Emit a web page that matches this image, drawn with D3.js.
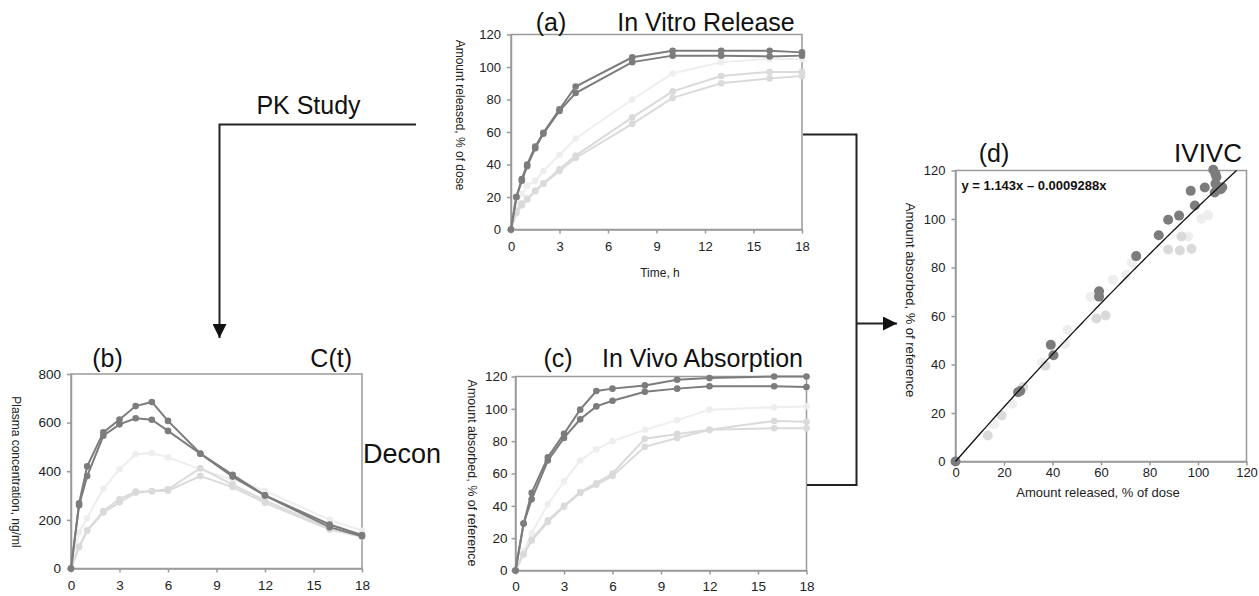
<!DOCTYPE html>
<html>
<head>
<meta charset="utf-8">
<script src="https://cdn.jsdelivr.net/npm/d3@7"></script>
<style>
  body { margin: 0; background: #fff; }
  text { font-family: "Liberation Sans", Arial, sans-serif; }
</style>
</head>
<body>
<svg id="fig" width="1259" height="596"></svg>
<script>
// ---- (a) In vitro release, % of dose ----
const timesA = [0, 0.33, 0.67, 1, 1.5, 2, 3, 4, 7.5, 10, 13, 16, 18];
const releaseDark1 = [0, 20, 31, 40, 51, 59.5, 74, 88, 106, 110, 110, 110, 109];
const releaseDark2 = [0, 20, 30, 39, 50, 59, 73, 84, 103, 107, 107, 106.5, 107];
const releasePale  = [0, 15, 22, 27, 30, 36, 46, 56, 80, 96, 103, 105, 105];
const releaseLight1 = [0, 11, 16, 19, 24, 28.5, 37, 45.5, 69, 85, 94.5, 97, 97];
const releaseLight2 = [0, 10, 15, 18.5, 23.5, 28, 36, 44, 65, 81, 90, 93, 94.5];

// ---- (b) Plasma concentration, ng/ml ----
const timesB = [0, 0.5, 1, 2, 3, 4, 5, 6, 8, 10, 12, 16, 18];
const plasmaDark1 = [0, 268, 420, 560, 613, 668, 685, 607, 473, 385, 301, 181, 138];
const plasmaDark2 = [0, 260, 380, 546, 593, 618, 612, 566, 472, 378, 300, 170, 133];
const plasmaPale  = [0, 150, 208, 328, 408, 470, 474, 457, 408, 365, 320, 200, 155];
const plasmaLight1 = [0, 90, 157, 236, 285, 316, 318, 326, 413, 345, 280, 165, 132];
const plasmaLight2 = [0, 88, 155, 230, 272, 312, 318, 320, 380, 335, 270, 160, 130];

// ---- (c) In vivo absorption, % of reference ----
const timesC = [0, 0.5, 1, 2, 3, 4, 5, 6, 8, 10, 12, 16, 18];
const absorbDark1 = [0, 29, 48, 70, 84.5, 99.5, 111, 112.5, 114.5, 118, 119, 120, 120];
const absorbDark2 = [0, 29, 44, 68, 82, 93.5, 101.5, 105, 110.5, 112.5, 114, 114, 113.5];
const absorbPale  = [0, 12, 23, 41, 55, 68, 75, 80, 87, 93, 99.5, 101, 101.5];
const absorbLight1 = [0, 10, 19, 31, 40, 48.5, 54, 60, 81.5, 84.5, 87, 92.5, 92];
const absorbLight2 = [0, 10, 18.5, 30, 39.5, 48, 53, 58.5, 76.5, 82, 87, 88, 88];

// ---- (d) IVIVC: [released, absorbed] ----
const ivivcDark = [
  [0, 0], [25.8, 28.6], [26.7, 29.1], [39.3, 48.1], [40.4, 43.8], [59.2, 70.2], [59.2, 68],
  [74.5, 84.7], [83.8, 93.3], [87.7, 99.7], [92.2, 101.4], [97, 111.6], [98.7, 105.6],
  [102.8, 113], [106.3, 120.3], [107.2, 118.6], [107.6, 117.3], [107.2, 114.5],
  [106.9, 110.9], [109.4, 112.3], [110, 113.1]
];
const ivivcLight = [
  [13.3, 10.7], [19, 19], [27.9, 30.7], [37.1, 39.5], [58.1, 59], [61.9, 60.2],
  [87.7, 87.4], [92.5, 87], [97.3, 87.7], [93.2, 92.8]
];
const ivivcPale = [
  [16, 15.5], [23.4, 23.8], [35.7, 40.8], [45.2, 48.5], [46.2, 54.3], [55.7, 67.8],
  [65, 75], [70.5, 77], [72.7, 81.8], [95.9, 92.8], [101.4, 100.1], [104.2, 101.6]
];
const fitA = 1.143, fitB = 0.0009288;

const timeTicks = [0, 3, 6, 9, 12, 15, 18];
const pctTicks = [0, 20, 40, 60, 80, 100, 120];
const concTicks = [0, 200, 400, 600, 800];

const DARK = "#7c7c7c", LIGHT = "#dadada", PALE = "#eeeeee", FRAME = "#9a9a9a";

const svg = d3.select("#fig");

function linePanel(p) {
  const x = d3.scaleLinear().domain([0, 18]).range([p.left, p.right]);
  const y = d3.scaleLinear().domain(p.yDomain).range([p.bottom, p.top]);
  const g = svg.append("g");

  // frame
  g.append("rect")
    .attr("x", p.left).attr("y", p.top)
    .attr("width", p.right - p.left).attr("height", p.bottom - p.top)
    .attr("fill", "none").attr("stroke", FRAME).attr("stroke-width", 1.5);

  const xAxis = g.append("g").attr("transform", `translate(0,${p.bottom})`)
    .call(d3.axisBottom(x).tickValues(timeTicks).tickSize(4).tickSizeOuter(0).tickPadding(p.xPad));
  const yAxis = g.append("g").attr("transform", `translate(${p.left},0)`)
    .call(d3.axisLeft(y).tickValues(p.yTicks).tickSize(4).tickSizeOuter(0).tickPadding(p.yPad));
  [xAxis, yAxis].forEach(a => {
    a.select(".domain").attr("stroke", FRAME).attr("stroke-width", 1.5);
    a.selectAll(".tick line").attr("stroke", FRAME).attr("stroke-width", 1.5);
    a.selectAll("text").attr("font-size", p.tickFont).attr("fill", "#222")
      .attr("font-family", "Liberation Sans, Arial, sans-serif");
  });

  const line = d3.line().x((d, i) => x(p.times[i])).y(d => y(d));
  p.series.forEach(s => {
    g.append("path").datum(s.values)
      .attr("d", line).attr("fill", "none")
      .attr("stroke", s.color).attr("stroke-width", 2);
    g.selectAll(null).data(s.values).enter().append("circle")
      .attr("cx", (d, i) => x(p.times[i])).attr("cy", d => y(d))
      .attr("r", 3.3).attr("fill", s.color);
  });

  g.append("text")
    .attr("transform", `translate(${p.yLabelX},${p.yLabelY}) rotate(90)`)
    .attr("dy", "0.35em").attr("text-anchor", "middle")
    .attr("font-size", p.labelFont).attr("fill", "#222")
    .text(p.yLabel);
  return { x, y };
}

// (a)
linePanel({
  left: 511, right: 802, top: 34.5, bottom: 229.5,
  yDomain: [0, 120], yTicks: pctTicks, times: timesA,
  xPad: 8, yPad: 6, tickFont: 13, labelFont: 12,
  yLabel: "Amount released, % of dose", yLabelX: 460.5, yLabelY: 115,
  series: [
    { values: releasePale, color: PALE },
    { values: releaseLight1, color: LIGHT },
    { values: releaseLight2, color: LIGHT },
    { values: releaseDark2, color: DARK },
    { values: releaseDark1, color: DARK }
  ]
});
svg.append("text").attr("x", 660).attr("y", 277).attr("text-anchor", "middle")
  .attr("font-size", 12).attr("fill", "#222").text("Time, h");

// (b)
linePanel({
  left: 71, right: 362, top: 374, bottom: 568.5,
  yDomain: [0, 800], yTicks: concTicks, times: timesB,
  xPad: 8, yPad: 6, tickFont: 13.5, labelFont: 12,
  yLabel: "Plasma concentration, ng/ml", yLabelX: 16, yLabelY: 472,
  series: [
    { values: plasmaPale, color: PALE },
    { values: plasmaLight1, color: LIGHT },
    { values: plasmaLight2, color: LIGHT },
    { values: plasmaDark2, color: DARK },
    { values: plasmaDark1, color: DARK }
  ]
});

// (c)
linePanel({
  left: 515.5, right: 806.5, top: 376.5, bottom: 570.5,
  yDomain: [0, 120], yTicks: pctTicks, times: timesC,
  xPad: 7, yPad: 4, tickFont: 13.5, labelFont: 12.5,
  yLabel: "Amount absorbed, % of reference", yLabelX: 472.5, yLabelY: 473,
  series: [
    { values: absorbPale, color: PALE },
    { values: absorbLight1, color: LIGHT },
    { values: absorbLight2, color: LIGHT },
    { values: absorbDark2, color: DARK },
    { values: absorbDark1, color: DARK }
  ]
});

// (d) IVIVC scatter
{
  const left = 955.5, right = 1246.5, top = 170.5, bottom = 461.5;
  const x = d3.scaleLinear().domain([0, 120]).range([left, right]);
  const y = d3.scaleLinear().domain([0, 120]).range([bottom, top]);
  const g = svg.append("g");
  g.append("rect").attr("x", left).attr("y", top)
    .attr("width", right - left).attr("height", bottom - top)
    .attr("fill", "none").attr("stroke", FRAME).attr("stroke-width", 1.5);
  const xAxis = g.append("g").attr("transform", `translate(0,${bottom})`)
    .call(d3.axisBottom(x).tickValues(pctTicks).tickSize(4).tickSizeOuter(0).tickPadding(2));
  const yAxis = g.append("g").attr("transform", `translate(${left},0)`)
    .call(d3.axisLeft(y).tickValues(pctTicks).tickSize(4).tickSizeOuter(0).tickPadding(6));
  [xAxis, yAxis].forEach(a => {
    a.select(".domain").attr("stroke", FRAME).attr("stroke-width", 1.5);
    a.selectAll(".tick line").attr("stroke", FRAME).attr("stroke-width", 1.5);
    a.selectAll("text").attr("font-size", 13).attr("fill", "#222")
      .attr("font-family", "Liberation Sans, Arial, sans-serif");
  });

  [[ivivcPale, PALE], [ivivcLight, LIGHT], [ivivcDark, DARK]].forEach(([pts, col]) => {
    g.selectAll(null).data(pts).enter().append("circle")
      .attr("cx", d => x(d[0])).attr("cy", d => y(d[1]))
      .attr("r", 5).attr("fill", col);
  });

  // fitted curve, stopped where it meets the top of the frame
  const fitX = d3.range(0, 116, 1).concat([115.9]);
  g.append("path").datum(fitX)
    .attr("d", d3.line().x(d => x(d)).y(d => y(fitA * d - fitB * d * d)))
    .attr("fill", "none").attr("stroke", "#111").attr("stroke-width", 1.3);

  g.append("text").attr("x", 961.5).attr("y", 190).attr("font-size", 13)
    .attr("font-weight", "bold").attr("fill", "#111")
    .text("y = 1.143x \u2013 0.0009288x");
  g.append("text").attr("x", 1098).attr("y", 497).attr("text-anchor", "middle")
    .attr("font-size", 13).attr("fill", "#222").text("Amount released, % of dose");
  g.append("text")
    .attr("transform", "translate(910.5,300) rotate(90)")
    .attr("dy", "0.35em").attr("text-anchor", "middle")
    .attr("font-size", 13).attr("fill", "#222")
    .text("Amount absorbed, % of reference");
}

// panel titles
const titles = [
  { t: "(a)", x: 551, y: 30.5, a: "middle", s: 25 },
  { t: "In Vitro Release", x: 706, y: 30.5, a: "middle", s: 25 },
  { t: "(b)", x: 107.5, y: 367, a: "middle", s: 25 },
  { t: "C(t)", x: 352, y: 367, a: "end", s: 25 },
  { t: "Decon", x: 363, y: 463, a: "start", s: 27 },
  { t: "(c)", x: 558, y: 367, a: "middle", s: 25 },
  { t: "In Vivo Absorption", x: 803, y: 367, a: "end", s: 25 },
  { t: "(d)", x: 994, y: 161.5, a: "middle", s: 25 },
  { t: "IVIVC", x: 1242, y: 161.5, a: "end", s: 26 },
  { t: "PK Study", x: 308.5, y: 114, a: "middle", s: 25 }
];
svg.selectAll("text.title").data(titles).enter().append("text")
  .attr("class", "title")
  .attr("x", d => d.x).attr("y", d => d.y).attr("text-anchor", d => d.a)
  .attr("font-size", d => d.s).attr("fill", "#111").text(d => d.t);

// flow arrows
svg.append("defs").append("marker")
  .attr("id", "head").attr("viewBox", "0 0 10 10").attr("refX", 10).attr("refY", 5)
  .attr("markerUnits", "userSpaceOnUse").attr("markerWidth", 15).attr("markerHeight", 14)
  .attr("orient", "auto")
  .append("path").attr("d", "M0,0L10,5L0,10Z").attr("fill", "#111");

const conn = svg.append("g").attr("fill", "none").attr("stroke", "#222").attr("stroke-width", 2);
conn.append("path").attr("d", "M416,124.5H219.5V338").attr("marker-end", "url(#head)");
conn.append("path").attr("d", "M803,134.5H856.5V485H807");
conn.append("path").attr("d", "M856.5,323.5H897").attr("marker-end", "url(#head)");
</script>
</body>
</html>
